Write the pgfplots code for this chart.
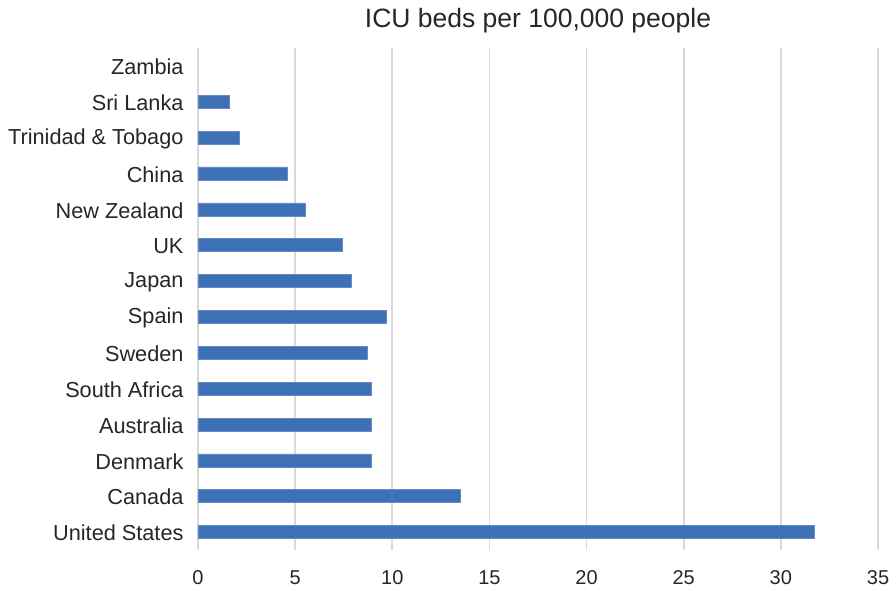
\documentclass[border=0pt]{standalone}
\usepackage{fontspec}
\setmainfont{Liberation Sans}
\usepackage{pgfplots}
\pgfplotsset{compat=1.18}
\definecolor{barblue}{RGB}{61,112,182}
\definecolor{gridgray}{RGB}{217,217,217}
\begin{document}
\begin{tikzpicture}
\useasboundingbox (-198pt,-40pt) rectangle (698pt,550pt);
\begin{axis}[
  at={(0pt,0pt)}, anchor=south west,
  scale only axis,
  width=680pt, height=502pt,
  xbar, bar width=13pt,
  xmin=0, xmax=35,
  ymin=-0.5, ymax=13.5,
  xtick={0,5,...,35},
  ytick={0,...,13},
  yticklabels={United States,Canada,Denmark,Australia,South Africa,Sweden,Spain,Japan,UK,New Zealand,China,Trinidad \& Tobago,Sri Lanka,Zambia},
  axis line style={draw=none},
  major tick length=0pt,
  xmajorgrids,
  grid style={gridgray, line width=1.6pt},
  /pgf/number format/assume math mode=true,
  xticklabel style={font=\fontsize{20}{24}\selectfont, color=black!85, yshift=-17pt},
  yticklabel style={font=\fontsize{21.7}{25}\selectfont, color=black!85, xshift=-11pt, yshift=-1pt},
  clip=false,
]
\addplot[fill=barblue, draw=barblue!80!white, line width=0.5pt] coordinates {
  (31.7,0) (13.5,1) (8.9,2) (8.9,3) (8.9,4) (8.7,5) (9.7,6) (7.9,7) (7.4,8) (5.5,9) (4.6,10) (2.1,11) (1.6,12)
};
\node[anchor=base, font=\fontsize{26.5}{30}\selectfont, color=black!85] at (axis description cs:0.5,1) [yshift=20pt] {ICU beds per 100,000 people};
\end{axis}
\end{tikzpicture}
\end{document}
